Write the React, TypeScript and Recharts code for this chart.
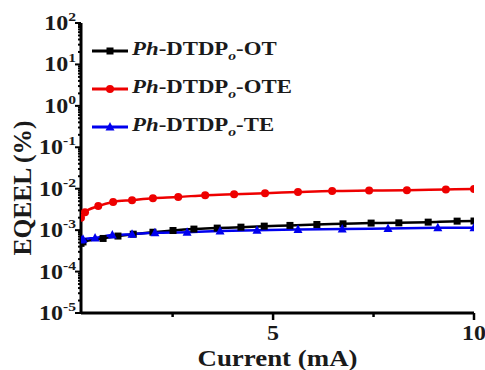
import { LineChart, Line, XAxis, YAxis } from 'recharts';

// x in mA, y in % (EQE_EL)
const otCurrent = [0.22, 0.27, 0.77, 1.14, 1.52, 2.01, 2.51, 3.03, 3.61, 4.2, 4.78, 5.42, 6.09, 6.74, 7.44, 8.13, 8.86, 9.58, 10];
const otEqe = [4.8e-4, 5.2e-4, 6.3e-4, 7.2e-4, 8.0e-4, 8.9e-4, 9.8e-4, 1.06e-3, 1.12e-3, 1.18e-3, 1.25e-3, 1.3e-3, 1.37e-3, 1.42e-3, 1.48e-3, 1.5e-3, 1.56e-3, 1.65e-3, 1.66e-3];

const oteCurrent = [0.22, 0.32, 0.65, 1.02, 1.49, 2.01, 2.64, 3.31, 4.03, 4.8, 5.62, 6.47, 7.39, 8.33, 9.3, 10];
const oteEqe = [2.0e-3, 2.7e-3, 3.8e-3, 4.8e-3, 5.3e-3, 5.9e-3, 6.3e-3, 7.0e-3, 7.4e-3, 7.8e-3, 8.3e-3, 8.8e-3, 9.0e-3, 9.2e-3, 9.6e-3, 9.8e-3];

const teCurrent = [0.22, 0.27, 0.57, 1.0, 1.49, 2.06, 2.86, 3.68, 4.6, 5.62, 6.72, 7.86, 9.1, 10];
const teEqe = [5.8e-4, 6.0e-4, 6.5e-4, 7.6e-4, 8.0e-4, 8.6e-4, 8.9e-4, 9.5e-4, 1.0e-3, 1.04e-3, 1.06e-3, 1.1e-3, 1.14e-3, 1.15e-3];

const xTicks = [2.5, 5, 7.5, 10];
const xLabels = [5, 10];
const decades = [-5, -4, -3, -2, -1, 0, 1, 2];

const yTicks: number[] = [];
decades.forEach((d) => {
  yTicks.push(Math.pow(10, d));
  if (d < 2) for (let m = 2; m <= 9; m++) yTicks.push(m * Math.pow(10, d));
});

const series = [
  { name: 'OT', color: '#000000', shape: 'square', x: otCurrent, y: otEqe },
  { name: 'OTE', color: '#ee0000', shape: 'circle', x: oteCurrent, y: oteEqe },
  { name: 'TE', color: '#0000ee', shape: 'triangle', x: teCurrent, y: teEqe },
];

const FONT = "'Liberation Serif', 'Times New Roman', serif";
const INK = '#1a1a1a';
// the source figure is stretched sideways a bit
const STRETCH = 1.2;

const isMajor = (v: number) => Math.abs(Math.log10(v) - Math.round(Math.log10(v))) < 1e-6;

function Marker({ cx, cy, shape, color }: any) {
  if (cx == null || cy == null) return null;
  if (shape === 'square') return <rect x={cx - 3.5} y={cy - 3.5} width={7} height={7} fill={color} />;
  if (shape === 'circle') return <circle cx={cx} cy={cy} r={4} fill={color} />;
  return <polygon points={`${cx},${cy - 5} ${cx - 4.5},${cy + 3.5} ${cx + 4.5},${cy + 3.5}`} fill={color} />;
}

function LeftTick({ x, y, payload }: any) {
  const v = payload.value;
  const major = isMajor(v);
  const exp = Math.round(Math.log10(v));
  return (
    <g>
      <line x1={x} x2={x - (major ? 6 : 3)} y1={y} y2={y} stroke="#000" strokeWidth={2} />
      {major && (
        <g transform={`translate(${x - 5},${y + 7}) scale(${STRETCH},1)`}>
          <text textAnchor="end" fontFamily={FONT} fontWeight="bold" fontSize={20} fill={INK}>
            10<tspan dy={-9} fontSize={13}>{exp}</tspan>
          </text>
        </g>
      )}
    </g>
  );
}

function RightTick({ x, y, payload }: any) {
  const major = isMajor(payload.value);
  return <line x1={x} x2={x + (major ? 5 : 2)} y1={y} y2={y} stroke="#000" strokeWidth={1.5} />;
}

function BottomTick({ x, y, payload }: any) {
  const v = payload.value;
  const major = xLabels.includes(v);
  return (
    <g>
      <line x1={x} x2={x} y1={y} y2={y + (major ? 7 : 4)} stroke="#000" strokeWidth={2.5} />
      {major && (
        <g transform={`translate(${x},${y + 27}) scale(${STRETCH},1)`}>
          <text textAnchor="middle" fontFamily={FONT} fontWeight="bold" fontSize={20} fill={INK}>
            {v}
          </text>
        </g>
      )}
    </g>
  );
}

function XTitle({ viewBox }: any) {
  const cx = viewBox.x + viewBox.width / 2;
  return (
    <text x={cx} y={366} textAnchor="middle" fontFamily={FONT} fontWeight="bold" fontSize={23} fill={INK} textLength={160} lengthAdjust="spacingAndGlyphs">
      Current (mA)
    </text>
  );
}

function YTitle({ viewBox }: any) {
  const cy = viewBox.y + viewBox.height / 2 + 20;
  return (
    <text transform={`translate(31,${cy}) rotate(-90)`} textAnchor="middle" fontFamily={FONT} fontWeight="bold" fontSize={25} fill={INK} textLength={135} lengthAdjust="spacingAndGlyphs">
      EQEEL (%)
    </text>
  );
}

function LegendBox() {
  return (
    <div style={{ position: 'absolute', left: 91, top: 32, fontFamily: FONT, fontWeight: 'bold', fontSize: 19, color: INK }}>
      {series.map((s) => (
        <div key={s.name} style={{ display: 'flex', alignItems: 'center', height: 38, whiteSpace: 'nowrap' }}>
          <svg width={38} height={12} style={{ marginRight: 3 }}>
            <line x1={1} x2={37} y1={6} y2={6} stroke={s.color} strokeWidth={3} />
            <Marker cx={19} cy={6} shape={s.shape} color={s.color} />
          </svg>
          <span style={{ display: 'inline-block', transform: `scaleX(${STRETCH})`, transformOrigin: 'left center' }}>
            <i>Ph</i>-DTDP<sub style={{ fontSize: 13, fontStyle: 'italic' }}>o</sub>-{s.name}
          </span>
        </div>
      ))}
    </div>
  );
}

export default function App() {
  return (
    <div style={{ position: 'absolute', left: 0, top: 0, width: 485, height: 370, background: '#fff' }}>
      <LineChart width={485} height={370} margin={{ top: 23, right: 11, bottom: 0, left: 0 }}>
        <XAxis
          xAxisId="b"
          type="number"
          dataKey="x"
          domain={[0.22, 10]}
          ticks={xTicks}
          interval={0}
          tickSize={0}
          tickMargin={0}
          tickLine={false}
          tick={<BottomTick />}
          axisLine={{ stroke: '#000', strokeWidth: 3 }}
          allowDataOverflow
          height={57}
          label={<XTitle />}
        />
        <XAxis
          xAxisId="t"
          orientation="top"
          type="number"
          domain={[0.22, 10]}
          tick={false}
          tickLine={false}
          height={0}
          axisLine={{ stroke: '#000', strokeWidth: 3 }}
        />
        <YAxis
          yAxisId="l"
          scale="log"
          domain={[1e-5, 100]}
          ticks={yTicks}
          interval={0}
          allowDataOverflow
          tickSize={0}
          tickMargin={0}
          tickLine={false}
          tick={<LeftTick />}
          width={81}
          axisLine={{ stroke: '#000', strokeWidth: 3 }}
          label={<YTitle />}
        />
        <YAxis
          yAxisId="r"
          orientation="right"
          scale="log"
          domain={[1e-5, 100]}
          ticks={yTicks}
          interval={0}
          allowDataOverflow
          tickSize={0}
          tickMargin={0}
          tickLine={false}
          tick={<RightTick />}
          width={0}
          axisLine={{ stroke: '#000', strokeWidth: 3 }}
        />
        {series.map((s) => (
          <Line
            key={s.name}
            xAxisId="b"
            yAxisId="l"
            data={s.x.map((x, i) => ({ x, y: s.y[i] }))}
            dataKey="y"
            type="monotone"
            stroke={s.color}
            strokeWidth={2.5}
            dot={(p: any) => <Marker key={p.index} cx={p.cx} cy={p.cy} shape={s.shape} color={s.color} />}
            isAnimationActive={false}
            legendType="none"
          />
        ))}
      </LineChart>
      <LegendBox />
    </div>
  );
}
